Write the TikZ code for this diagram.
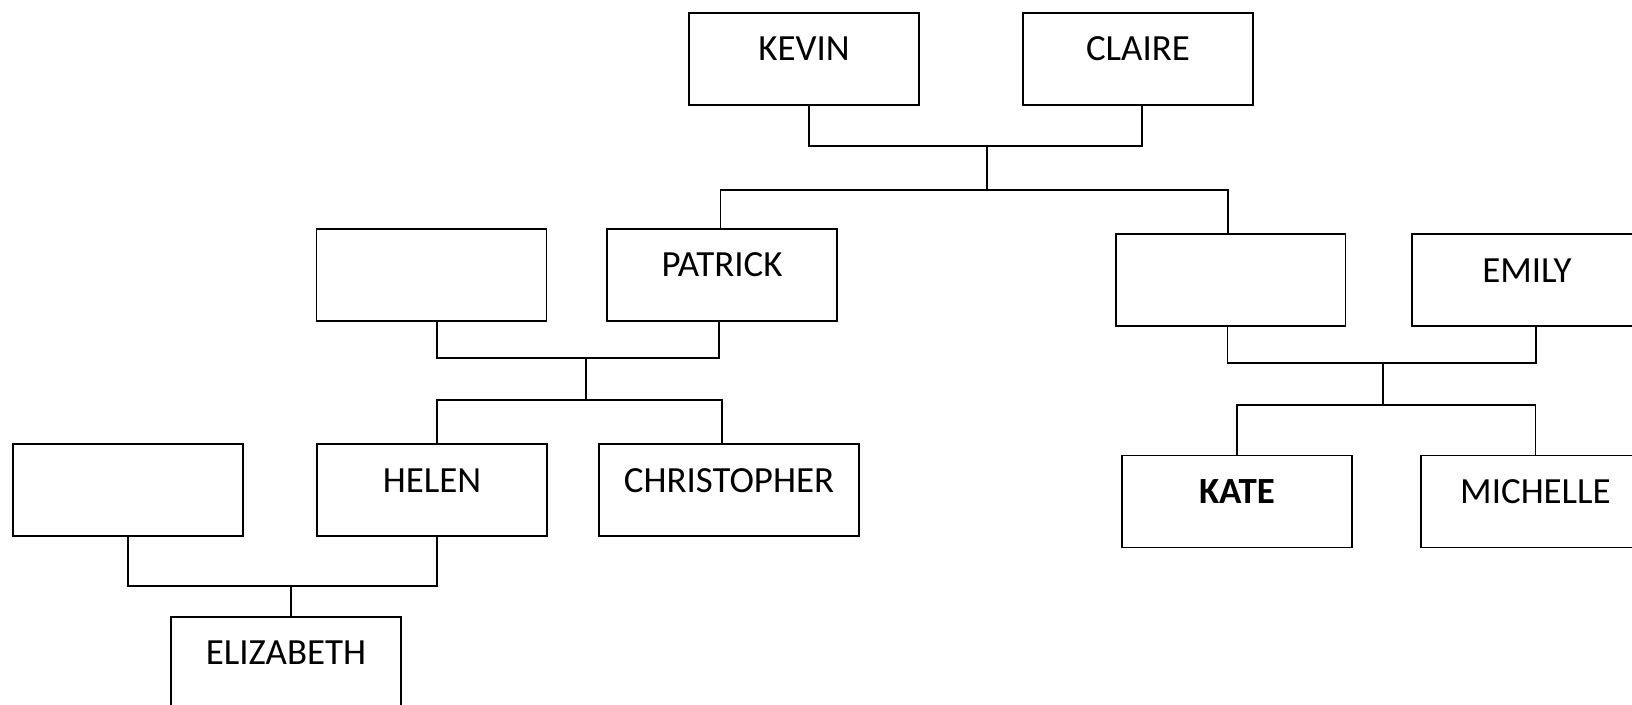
\documentclass[tikz,border=0pt]{standalone}
\usepackage{fontspec}
\setmainfont{Carlito}
\tikzset{
  person/.style={draw, line width=1.1pt, anchor=north, outer sep=0pt,
    minimum width=4.6cm, inner xsep=0pt, inner ysep=0pt,
    text height=0.96cm, text depth=0.88cm,
    font=\fontsize{21}{25}\selectfont},
  link/.style={line width=1.1pt}
}
\begin{document}
\begin{tikzpicture}[x=0.02cm,y=-0.02cm]
  \useasboundingbox (0,0) rectangle (1632,704);
  % grandparents
  \node[person] (kevin) at (804,13) {KEVIN};
  \node[person] (claire) at (1138,13) {CLAIRE};
  % parents
  \node[person] (inlawP) at (431.5,229) {};
  \node[person] (patrick) at (722,229) {PATRICK};
  \node[person] (inlawE) at (1230.5,234.3) {};
  \node[person] (emily) at (1527,234.3) {EMILY};
  % children
  \node[person] (inlawH) at (127.7,444.3) {};
  \node[person] (helen) at (432,444.3) {HELEN};
  \node[person, minimum width=5.2cm] (christopher) at (729,444.3) {CHRISTOPHER};
  \node[person] (kate) at (1237,455.5) {\textbf{KATE}};
  \node[person] (michelle) at (1535.5,455.5) {MICHELLE};
  % grandchild
  \node[person] (elizabeth) at (286,616.7) {ELIZABETH};
  % junctions
  \coordinate (kc) at (987,145.7);
  \coordinate (kk) at (987,190);
  \coordinate (pc) at (586.4,357.7);
  \coordinate (pk) at (586.4,400);
  \coordinate (ec) at (1383.3,363.3);
  \coordinate (ek) at (1383.3,405.3);
  \coordinate (hc) at (291,585.7);
  % connectors
  \draw[link] ([xshift=0.1cm]kevin.south) |- (kc) -| ([xshift=0.08cm]claire.south);
  \draw[link] (kc) -- (kk);
  \draw[link] ([xshift=-0.03cm]patrick.north) |- (kk) -| ([xshift=-0.05cm]inlawE.north);
  \draw[link] ([xshift=0.11cm]inlawP.south) |- (pc) -| ([xshift=-0.06cm]patrick.south);
  \draw[link] (pc) -- (pk);
  \draw[link] ([xshift=0.1cm]helen.north) |- (pk) -| ([xshift=-0.14cm]christopher.north);
  \draw[link] ([xshift=-0.06cm]inlawE.south) |- (ec) -| ([xshift=0.18cm]emily.south);
  \draw[link] (ec) -- (ek);
  \draw[link] (kate.north) |- (ek) -| (michelle.north);
  \draw[link] (inlawH.south) |- (hc) -| ([xshift=0.1cm]helen.south);
  \draw[link] (hc) -- (hc |- elizabeth.north);
\end{tikzpicture}
\end{document}
